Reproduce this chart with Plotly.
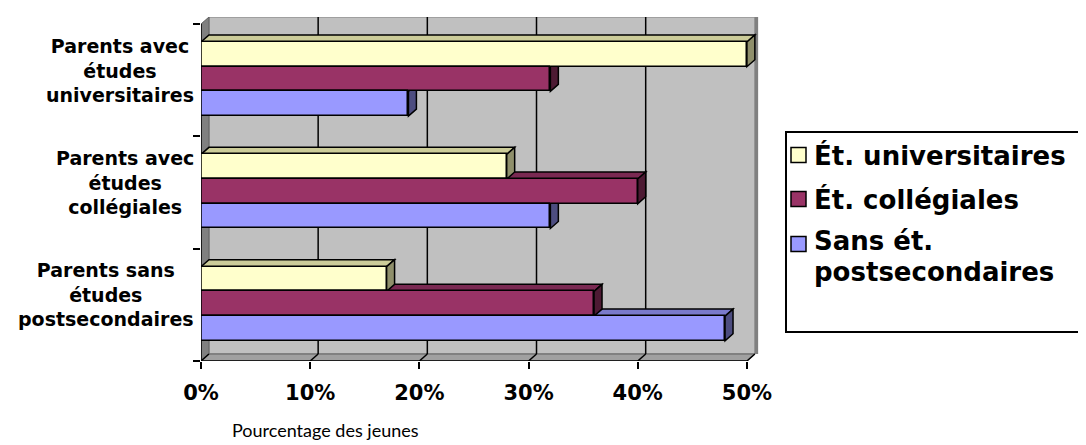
import plotly.graph_objects as go

# ---- data ----
categories = ["Parents sans<br>études<br>postsecondaires",
              "Parents avec<br>études<br>collégiales",
              "Parents avec<br>études<br>universitaires"]
series_names = ["Ét. universitaires", "Ét. collégiales", "Sans ét.<br>postsecondaires"]
univ_vals = [17, 28, 50]
coll_vals = [36, 40, 32]
sans_vals = [48, 32, 19]
x_ticks = [0, 10, 20, 30, 40, 50]
x_tick_labels = ["0%", "10%", "20%", "30%", "40%", "50%"]
x_title = "Pourcentage des jeunes"

# ---- styling ----
front = ["#FFFFCC", "#993366", "#9999FF"]
topc = ["#CCCC99", "#7A2952", "#7A7ACC"]
sidec = ["#8F8F6B", "#4D1A33", "#4D4D80"]
offsets = [0.12, -0.10, -0.32]
bw = 0.22
DX = 0.73      # depth in x units (%)
DY = 0.0623    # depth in y units
XMAX = 50
pos = list(range(len(categories)))
series = [univ_vals, coll_vals, sans_vals]

W, H = 1086, 445
ML, MR, MT, MB = 193, 334, 9, 92
PW, PH = W - ML - MR, H - MT - MB


def px2x(px):
    return (px - ML) / PW


def px2y(py):
    return (H - MB - py) / PH


BOLD = "DejaVu Sans, Liberation Sans, sans-serif"

fig = go.Figure()

shapes = []
shapes.append(dict(type="rect", xref="x", yref="y", x0=DX, x1=XMAX + DX, y0=-0.5 + DY, y1=2.5 + DY,
                   fillcolor="#C0C0C0", line=dict(color="#808080", width=1), layer="below"))
shapes.append(dict(type="rect", xref="x", yref="y", x0=XMAX + DX, x1=XMAX + DX + 0.3, y0=-0.5 + DY, y1=2.5 + DY,
                   fillcolor="#808080", line=dict(width=0), layer="below"))
shapes.append(dict(type="path", xref="x", yref="y",
                   path=f"M 0 -0.5 L {DX} {-0.5 + DY} L {DX} {2.5 + DY} L 0 2.5 Z",
                   fillcolor="#808080", line=dict(color="#606060", width=1), layer="below"))
shapes.append(dict(type="path", xref="x", yref="y",
                   path=f"M 0 -0.5 L {XMAX} -0.5 L {XMAX + DX} {-0.5 + DY} L {DX} {-0.5 + DY} Z",
                   fillcolor="#A0A0A0", line=dict(color="#606060", width=1), layer="below"))
for v in x_ticks[1:-1]:
    shapes.append(dict(type="line", xref="x", yref="y", x0=v + DX, x1=v + DX, y0=-0.5 + DY, y1=2.5 + DY,
                       line=dict(color="black", width=1.5), layer="below"))
for v in x_ticks:
    shapes.append(dict(type="line", xref="x", yref="y", x0=v, x1=v + DX, y0=-0.5, y1=-0.5 + DY,
                       line=dict(color="black", width=1.5), layer="below"))

for si in [2, 1, 0]:
    vals = series[si]
    for p, v in zip(pos, vals):
        b = p + offsets[si]
        t = b + bw
        shapes.append(dict(type="path", xref="x", yref="y",
                           path=f"M 0 {t} L {v} {t} L {v + DX} {t + DY} L {DX} {t + DY} Z",
                           fillcolor=topc[si], line=dict(color="black", width=1.5), layer="below"))
        shapes.append(dict(type="path", xref="x", yref="y",
                           path=f"M {v} {b} L {v} {t} L {v + DX} {t + DY} L {v + DX} {b + DY} Z",
                           fillcolor=sidec[si], line=dict(color="black", width=1.5), layer="below"))

shapes.append(dict(type="line", xref="x", yref="y", x0=0, x1=0, y0=-0.5, y1=2.5,
                   line=dict(color="black", width=1.5), layer="above"))
shapes.append(dict(type="line", xref="x", yref="y", x0=0, x1=XMAX, y0=-0.5, y1=-0.5,
                   line=dict(color="black", width=1.5), layer="above"))

for si in range(3):
    fig.add_trace(go.Bar(
        y=pos, x=series[si], orientation="h", name=series_names[si].replace("<br>", " "),
        width=bw, offset=offsets[si],
        marker=dict(color=front[si], line=dict(color="black", width=1.5)),
        hoverinfo="x+name", showlegend=False,
    ))

annotations = []
for p, c in zip(pos, categories):
    annotations.append(dict(xref="x", yref="y", x=0, y=p, xshift=-5, yshift=10, text=c, showarrow=False,
                            xanchor="right", yanchor="middle", align="center",
                            font=dict(family=BOLD, size=19, color="black", weight="bold")))
annotations.append(dict(xref="paper", yref="paper", x=0.2236, y=-0.2, text=x_title, showarrow=False,
                        xanchor="center", yanchor="middle",
                        font=dict(family="Lato, Roboto, Liberation Sans, sans-serif", size=18,
                                  color="black")))

# ---- legend (drawn as box, swatches and text) ----
shapes.append(dict(type="rect", xref="paper", yref="paper", x0=px2x(778), x1=px2x(1100),
                   y0=px2y(324), y1=px2y(124), fillcolor="white", line=dict(color="black", width=2),
                   layer="above"))
row_y = [147, 191, 236]
for si, ry in enumerate(row_y):
    shapes.append(dict(type="rect", xref="paper", yref="paper", x0=px2x(783), x1=px2x(798),
                       y0=px2y(ry + 7.5), y1=px2y(ry - 7.5), fillcolor=front[si],
                       line=dict(color="black", width=1.5), layer="above"))
    lines = series_names[si].split("<br>")
    for li, txt in enumerate(lines):
        yy = ry if len(lines) == 1 else ry - 3 + li * 31
        annotations.append(dict(xref="paper", yref="paper", x=px2x(804), y=px2y(yy),
                                text=txt, showarrow=False, xanchor="left", yanchor="middle",
                                font=dict(family=BOLD, size=26, color="black", weight="bold")))

fig.update_layout(
    width=W, height=H,
    margin=dict(l=ML, r=MR, t=MT, b=MB, autoexpand=False),
    paper_bgcolor="white", plot_bgcolor="rgba(0,0,0,0)",
    barmode="overlay", bargap=0,
    shapes=shapes, annotations=annotations,
    showlegend=False,
    xaxis=dict(range=[0, 51.2], tickvals=x_ticks, ticktext=x_tick_labels, showgrid=False, zeroline=False,
               showline=False, ticks="outside", ticklen=7, tickwidth=1.5, tickcolor="black",
               ticklabelstandoff=6,
               tickfont=dict(family=BOLD, size=21, color="black", weight="bold"), fixedrange=True),
    yaxis=dict(range=[-0.5, 2.5625], tickvals=[-0.5, 0.5, 1.5, 2.5], ticktext=["", "", "", ""],
               showgrid=False, zeroline=False, showline=False, ticks="outside", ticklen=7, tickwidth=1.5,
               tickcolor="black", fixedrange=True),
)

fig.write_html("out.html")
